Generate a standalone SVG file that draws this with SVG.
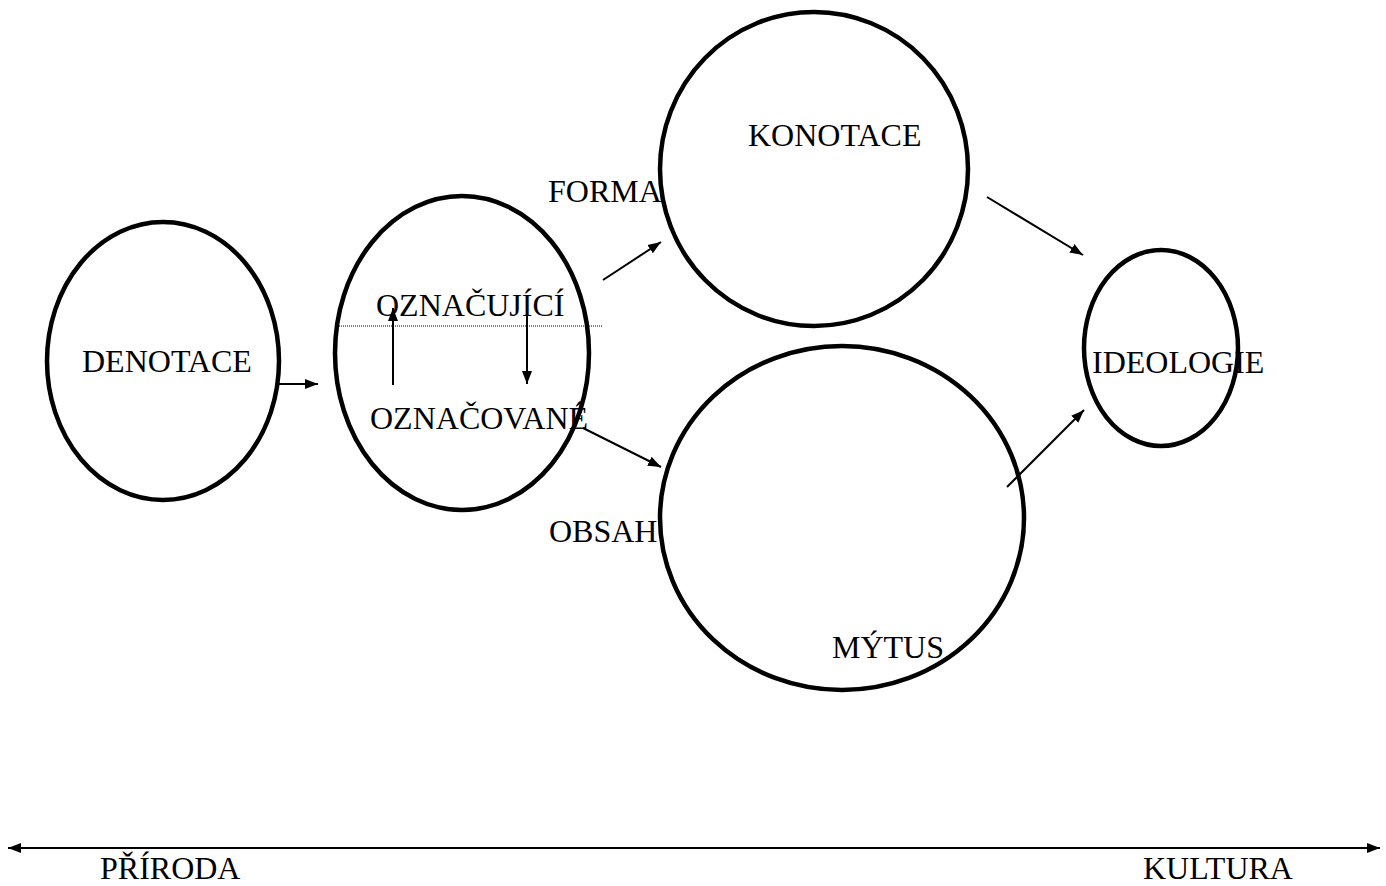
<svg xmlns="http://www.w3.org/2000/svg" width="1386" height="886" viewBox="0 0 1386 886">
<style>
text{font-family:"Liberation Serif","Times New Roman",serif;font-size:32px;fill:#000}
.node{fill:none;stroke:#000;stroke-width:4.5}
.conn line{stroke:#000;stroke-width:2}
</style>
<defs>
<marker id="ah" markerUnits="userSpaceOnUse" markerWidth="14" markerHeight="12" refX="13" refY="5" orient="auto-start-reverse" viewBox="0 0 14 10">
<path d="M0,0 L13,5 L0,10 Z" fill="#000"/>
</marker>
</defs>
<rect width="1386" height="886" fill="#fff"/>
<g id="labels">
<text x="548" y="202">FORMA</text>
<text x="549" y="542">OBSAH</text>
<text x="100" y="879">PŘÍRODA</text>
<text x="1143" y="879">KULTURA</text>
</g>
<g id="denotace">
<text x="82" y="372">DENOTACE</text>
<ellipse class="node" cx="163" cy="361" rx="116" ry="139"/>
</g>
<g id="znak">
<text x="376" y="316">OZNAČUJÍCÍ</text>
<text x="370" y="429">OZNAČOVANÉ</text>
<line x1="337" y1="326" x2="602" y2="326" stroke="#000" stroke-width="1" stroke-dasharray="1,1"/>
<ellipse class="node" cx="462" cy="353" rx="127" ry="157"/>
</g>
<g id="konotace">
<text x="748" y="146">KONOTACE</text>
<ellipse class="node" cx="814" cy="169" rx="154" ry="157"/>
</g>
<g id="mytus">
<text x="832" y="658">MÝTUS</text>
<ellipse class="node" cx="842" cy="518" rx="182" ry="172"/>
</g>
<g id="ideologie">
<text x="1092" y="373">IDEOLOGIE</text>
<ellipse class="node" cx="1161" cy="348" rx="77" ry="98"/>
</g>
<g class="conn" id="connectors">
<line x1="278" y1="384" x2="318" y2="384" marker-end="url(#ah)"/>
<line x1="393" y1="385" x2="393" y2="308" marker-end="url(#ah)"/>
<line x1="527" y1="308" x2="527" y2="384" marker-end="url(#ah)"/>
<line x1="603" y1="280" x2="661" y2="242" marker-end="url(#ah)"/>
<line x1="583" y1="428" x2="661" y2="467" marker-end="url(#ah)"/>
<line x1="987" y1="197" x2="1083" y2="255" marker-end="url(#ah)"/>
<line x1="1007" y1="487" x2="1084" y2="410" marker-end="url(#ah)"/>
<line x1="8" y1="848" x2="1380" y2="848" marker-start="url(#ah)" marker-end="url(#ah)"/>
</g>
</svg>
